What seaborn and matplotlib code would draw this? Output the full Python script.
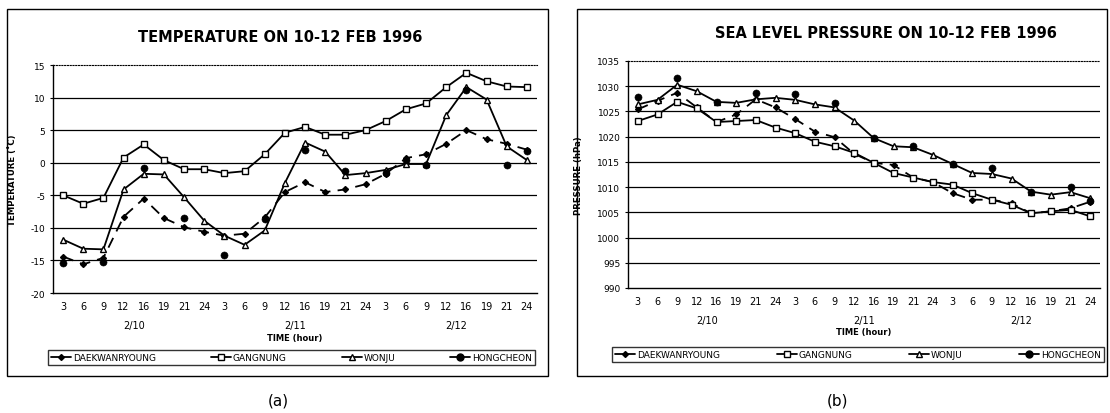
import numpy as np
import pandas as pd
import matplotlib
matplotlib.use("Agg")
import matplotlib.pyplot as plt
from matplotlib.lines import Line2D
from matplotlib.patches import Rectangle
from matplotlib.transforms import blended_transform_factory
import seaborn as sns

nan = np.nan

# observation hours over 10-12 Feb 1996
hour_labels = ["3", "6", "9", "12", "16", "19", "21", "24",
               "3", "6", "9", "12", "16", "19", "21", "24",
               "3", "6", "9", "12", "16", "19", "21", "24"]
day_labels = ["2/10", "2/11", "2/12"]
stations = ["DAEKWANRYOUNG", "GANGNUNG", "WONJU", "HONGCHEON"]

# temperature (deg C)
temp_daekwanryoung = [-14.4, -15.6, -14.6, -8.3, -5.5, -8.5, -9.9, -10.6, -11.2, -10.9, -8.4, -4.5,
                      -3.0, -4.5, -4.1, -3.3, -1.7, 0.7, 1.3, 2.9, 5.0, 3.6, 2.9, 2.0]
temp_gangnung = [-5.0, -6.3, -5.4, 0.8, 2.8, 0.4, -1.0, -1.0, -1.6, -1.3, 1.3, 4.6,
                 5.5, 4.3, 4.3, 5.0, 6.4, 8.2, 9.1, 11.6, 13.8, 12.5, 11.7, 11.6]
temp_wonju = [-11.8, -13.2, -13.3, -4.1, -1.7, -1.8, -5.3, -8.9, -11.2, -12.6, -10.4, -3.1,
              3.1, 1.7, -1.9, -1.6, -1.1, -0.2, -0.2, 7.3, 11.6, 9.7, 2.5, 0.4]
temp_hongcheon = [-15.4, nan, -15.2, nan, -0.8, nan, -8.5, nan, -14.2, nan, -8.7, nan,
                  1.9, nan, -1.2, nan, -1.6, 0.4, -0.3, nan, 11.2, nan, -0.4, 1.8]

# sea level pressure (hPa)
slp_daekwanryoung = [1025.4, 1027.1, 1028.7, 1025.8, 1022.9, 1024.4, 1027.4, 1025.8, 1023.5, 1021.0, 1019.9, 1016.6,
                     1014.8, 1014.4, 1011.9, 1011.0, 1008.8, 1007.5, 1007.5, 1006.8, 1004.8, 1005.2, 1005.8, 1007.1]
slp_gangnung = [1023.1, 1024.4, 1026.9, 1025.6, 1022.9, 1023.1, 1023.3, 1021.8, 1020.7, 1019.0, 1018.1, 1016.8,
                1014.8, 1012.8, 1011.9, 1011.0, 1010.5, 1008.8, 1007.5, 1006.5, 1004.8, 1005.2, 1005.5, 1004.2]
slp_wonju = [1026.4, 1027.3, 1030.3, 1029.0, 1026.9, 1026.7, 1027.4, 1027.7, 1027.3, 1026.4, 1025.8, 1023.2,
             1019.7, 1018.1, 1017.9, 1016.4, 1014.6, 1012.8, 1012.6, 1011.7, 1009.1, 1008.5, 1009.0, 1007.8]
slp_hongcheon = [1027.8, nan, 1031.7, nan, 1026.9, nan, 1028.7, nan, 1028.4, nan, 1026.6, nan,
                 1019.7, nan, 1018.1, nan, 1014.6, nan, 1013.8, nan, 1009.1, nan, 1010.1, 1007.2]

sns.set_style("white")
plt.rcParams["font.family"] = ["DejaVu Sans"]
plt.rcParams["text.color"] = "black"
plt.rcParams["axes.labelcolor"] = "black"
plt.rcParams["xtick.color"] = "black"
plt.rcParams["ytick.color"] = "black"

fig = plt.figure(figsize=(11.1, 4.14), dpi=100)
W, H = 1110.0, 414.0


def fx(px):
    return px / W


def fy(py):
    return 1 - py / H


styles = {
    "DAEKWANRYOUNG": dict(marker="D", ms=3.0, mfc="black", mec="black", ls=(0, (6, 4))),
    "GANGNUNG": dict(marker="s", ms=4.3, mfc="white", mec="black", ls="-"),
    "WONJU": dict(marker="^", ms=4.8, mfc="white", mec="black", ls="-"),
    "HONGCHEON": dict(marker="o", ms=5, mfc="black", mec="black", ls="-"),
}


def draw_panel(rect_px, series, ylim, ystep, ylabel, title, title_px, box_px, legend_px, tag_px, tag):
    l, t, r, b = rect_px
    ax = fig.add_axes([fx(l), fy(b), fx(r - l), (b - t) / H])
    n = len(hour_labels)
    df = pd.DataFrame({"idx": np.arange(n)})
    for name in stations:
        df[name] = series[name]
    for name in stations[:3]:
        st = styles[name]
        sub = df[["idx", name]].dropna()
        sns.lineplot(data=sub, x="idx", y=name, ax=ax, color="black", lw=1.3,
                     linestyle=st["ls"], marker=st["marker"], markersize=st["ms"],
                     markerfacecolor=st["mfc"], markeredgecolor=st["mec"],
                     markeredgewidth=1.0, zorder=3)
    sub = df[["idx", "HONGCHEON"]].dropna()
    sns.scatterplot(data=sub, x="idx", y="HONGCHEON", ax=ax, color="black",
                    marker="o", s=26, edgecolor="black", zorder=4)

    ax.set_xlim(-0.5, n - 0.5)
    ax.set_ylim(*ylim)
    yt = np.arange(ylim[0], ylim[1] + 0.1, ystep)
    ax.set_yticks(yt)
    ax.set_yticklabels([f"{v:g}" for v in yt])
    ax.set_xticks(np.arange(n))
    ax.set_xticklabels(hour_labels)
    ax.set_xticks(np.arange(n + 1) - 0.5, minor=True)
    ax.tick_params(axis="x", which="major", length=0, pad=6, labelsize=7)
    ax.tick_params(axis="x", which="minor", length=3, direction="in", width=0.8)
    ax.tick_params(axis="y", length=2.5, direction="out", width=0.8, pad=3, labelsize=6.5, left=True)
    ax.set_xlabel("")
    ax.set_ylabel(ylabel, fontsize=6.2, fontweight="bold", labelpad=10)
    ax.grid(axis="y", color="black", lw=0.9)
    ax.grid(axis="x", visible=False)
    ax.get_ygridlines()[-1].set_visible(False)
    ax.get_ygridlines()[0].set_visible(False)
    for s in ["left", "bottom"]:
        ax.spines[s].set_color("black")
        ax.spines[s].set_linewidth(1.0)
    ax.spines["right"].set_visible(False)
    ax.spines["top"].set_linestyle((0, (1, 1.5)))
    ax.spines["top"].set_linewidth(0.8)
    ax.spines["top"].set_color("black")

    trans = blended_transform_factory(ax.transData, ax.transAxes)
    hpx = b - t
    for k, d in enumerate(day_labels):
        ax.text(3.5 + 8 * k, -32 / hpx, d, transform=trans, ha="center", va="center", fontsize=7)
    ax.text(0.5, -44 / hpx, "TIME (hour)", transform=ax.transAxes, ha="center", va="center",
            fontsize=6, fontweight="bold")

    fig.text(fx(title_px[0]), fy(title_px[1]), title, ha="center", va="center",
             fontsize=10.5, fontweight="bold")

    bx0, by0, bx1, by1 = box_px
    fig.patches.append(Rectangle((fx(bx0), fy(by1)), fx(bx1 - bx0), (by1 - by0) / H,
                                 transform=fig.transFigure, fill=False, ec="black", lw=1.0))

    handles = []
    for name in stations:
        st = styles[name]
        handles.append(Line2D([0], [0], color="black", lw=1.3, ls="-",
                              marker=st["marker"], ms=st["ms"], mfc=st["mfc"], mec=st["mec"]))
    lx0, ly0, lx1, ly1 = legend_px
    leg = fig.legend(handles, stations, loc="lower left", ncol=4, mode="expand",
                     bbox_to_anchor=(fx(lx0), fy(ly1), fx(lx1 - lx0), (ly1 - ly0) / H),
                     fontsize=6.5, frameon=True, fancybox=False, borderpad=0.35,
                     handlelength=2.2, handletextpad=0.2, borderaxespad=0)
    leg.get_frame().set_edgecolor("black")
    leg.get_frame().set_linewidth(1.0)

    fig.text(fx(tag_px), fy(401), tag, ha="center", va="center", fontsize=11)
    return ax


draw_panel((53, 66, 537, 294),
           {"DAEKWANRYOUNG": temp_daekwanryoung, "GANGNUNG": temp_gangnung,
            "WONJU": temp_wonju, "HONGCHEON": temp_hongcheon},
           (-20, 15), 5, "TEMPERATURE (\u02daC)", "TEMPERATURE ON 10-12 FEB 1996",
           (280, 37), (7, 10, 548, 377), (48, 348, 535, 366), 278, "(a)")

draw_panel((628, 62, 1100, 289),
           {"DAEKWANRYOUNG": slp_daekwanryoung, "GANGNUNG": slp_gangnung,
            "WONJU": slp_wonju, "HONGCHEON": slp_hongcheon},
           (990, 1035), 5, "PRESSURE (hPa)", "SEA LEVEL PRESSURE ON 10-12 FEB 1996",
           (886, 34), (577, 10, 1107, 377), (612, 345, 1104, 363), 838, "(b)")

fig.savefig("out.png", dpi=100)
